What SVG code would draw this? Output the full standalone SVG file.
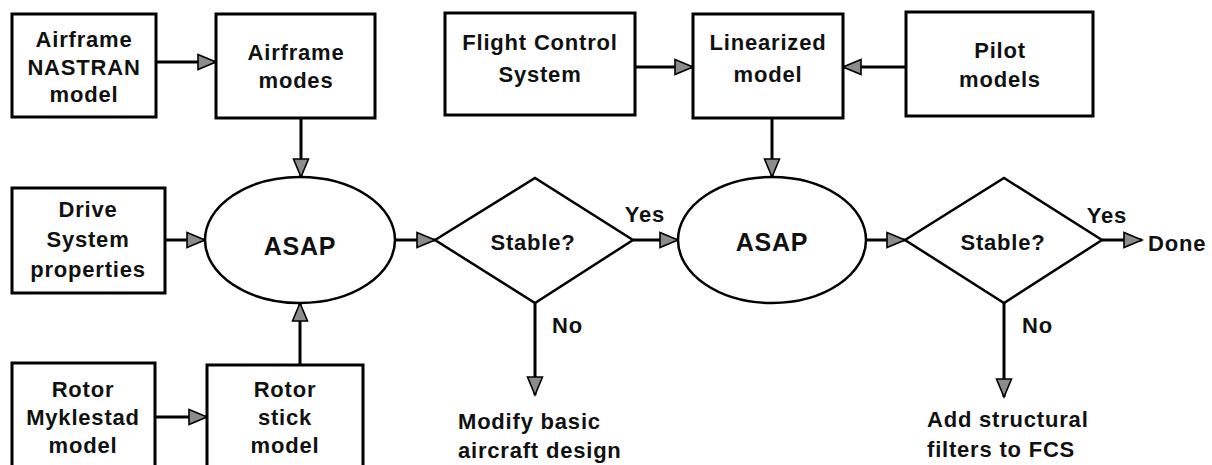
<svg xmlns="http://www.w3.org/2000/svg" width="1212" height="465" viewBox="0 0 1212 465">
<style>
.box{fill:#fff;stroke:#000;stroke-width:3}
.shape{fill:#fff;stroke:#000;stroke-width:2.5}
.t{font-family:"Liberation Sans",Arial,sans-serif;font-weight:bold;font-size:22px;letter-spacing:0.8px;fill:#111;text-anchor:middle}
.tl{text-anchor:start}
.big{font-size:25px}
.c{stroke:#000;stroke-width:3;fill:none;marker-end:url(#ah)}
</style>
<defs>
<marker id="ah" markerUnits="userSpaceOnUse" markerWidth="22" markerHeight="20" refX="19" refY="9" orient="auto">
<path d="M1,1.5 L19,9 L1,16.5 Z" fill="#8c8c8c" stroke="#000" stroke-width="1.6" stroke-linejoin="miter"/>
</marker>
</defs>
<rect width="1212" height="465" fill="#fff"/>
<g id="connectors">
<line class="c" x1="156" y1="62" x2="216" y2="62"/>
<line class="c" x1="301" y1="118" x2="301" y2="177"/>
<line class="c" x1="635" y1="67" x2="693" y2="67"/>
<line class="c" x1="906" y1="67" x2="843" y2="67"/>
<line class="c" x1="772" y1="118" x2="772" y2="177"/>
<line class="c" x1="165" y1="240" x2="205" y2="240"/>
<line class="c" x1="300" y1="365" x2="300" y2="303"/>
<line class="c" x1="155" y1="417" x2="207" y2="417"/>
<line class="c" x1="395" y1="240" x2="435" y2="240"/>
<line class="c" x1="633" y1="240" x2="678" y2="240"/>
<line class="c" x1="866" y1="240" x2="905" y2="240"/>
<line class="c" x1="1102" y1="240" x2="1142" y2="240"/>
<line class="c" x1="535" y1="303" x2="535" y2="395"/>
<line class="c" x1="1004" y1="303" x2="1004" y2="397"/>
<text class="t" x="645" y="222">Yes</text>
<text class="t" x="1107" y="223">Yes</text>
<text class="t tl" x="552" y="333">No</text>
<text class="t tl" x="1022" y="333">No</text>
</g>
<g id="airframe-nastran">
<rect class="box" x="12" y="14" width="144" height="103"/>
<text class="t" x="84" y="47">Airframe</text>
<text class="t" x="84" y="75">NASTRAN</text>
<text class="t" x="84" y="102">model</text>
</g>
<g id="airframe-modes">
<rect class="box" x="216" y="14" width="159" height="104"/>
<text class="t" x="296" y="60">Airframe</text>
<text class="t" x="296" y="88">modes</text>
</g>
<g id="fcs">
<rect class="box" x="445" y="13" width="190" height="102"/>
<text class="t" x="540" y="50">Flight Control</text>
<text class="t" x="540" y="82">System</text>
</g>
<g id="linearized">
<rect class="box" x="693" y="14" width="150" height="104"/>
<text class="t" x="768" y="50">Linearized</text>
<text class="t" x="768" y="82">model</text>
</g>
<g id="pilot">
<rect class="box" x="906" y="12" width="187" height="104"/>
<text class="t" x="1000" y="58">Pilot</text>
<text class="t" x="1000" y="87">models</text>
</g>
<g id="drive">
<rect class="box" x="12" y="188" width="153" height="105"/>
<text class="t" x="88" y="217">Drive</text>
<text class="t" x="88" y="247">System</text>
<text class="t" x="88" y="277">properties</text>
</g>
<g id="asap1">
<ellipse class="shape" cx="300" cy="240" rx="95" ry="63"/>
<text class="t big" x="300" y="255">ASAP</text>
</g>
<g id="stable1">
<polygon class="shape" points="435,240 535,178 633,240 535,303"/>
<text class="t" x="533" y="250">Stable?</text>
</g>
<g id="asap2">
<ellipse class="shape" cx="772" cy="240" rx="94" ry="63"/>
<text class="t big" x="772" y="251">ASAP</text>
</g>
<g id="stable2">
<polygon class="shape" points="905,240 1004,178 1102,240 1004,303"/>
<text class="t" x="1003" y="250">Stable?</text>
</g>
<g id="done">
<text class="t tl" x="1148" y="251">Done</text>
</g>
<g id="rotor-myklestad">
<rect class="box" x="12" y="363" width="143" height="110"/>
<text class="t" x="83" y="397">Rotor</text>
<text class="t" x="83" y="425">Myklestad</text>
<text class="t" x="83" y="453">model</text>
</g>
<g id="rotor-stick">
<rect class="box" x="207" y="365" width="156" height="110"/>
<text class="t" x="285" y="397">Rotor</text>
<text class="t" x="285" y="425">stick</text>
<text class="t" x="285" y="453">model</text>
</g>
<g id="modify">
<text class="t tl" x="458" y="429">Modify basic</text>
<text class="t tl" x="458" y="458">aircraft design</text>
</g>
<g id="add-filters">
<text class="t tl" x="927" y="427">Add structural</text>
<text class="t tl" x="927" y="457">filters to FCS</text>
</g>
</svg>
